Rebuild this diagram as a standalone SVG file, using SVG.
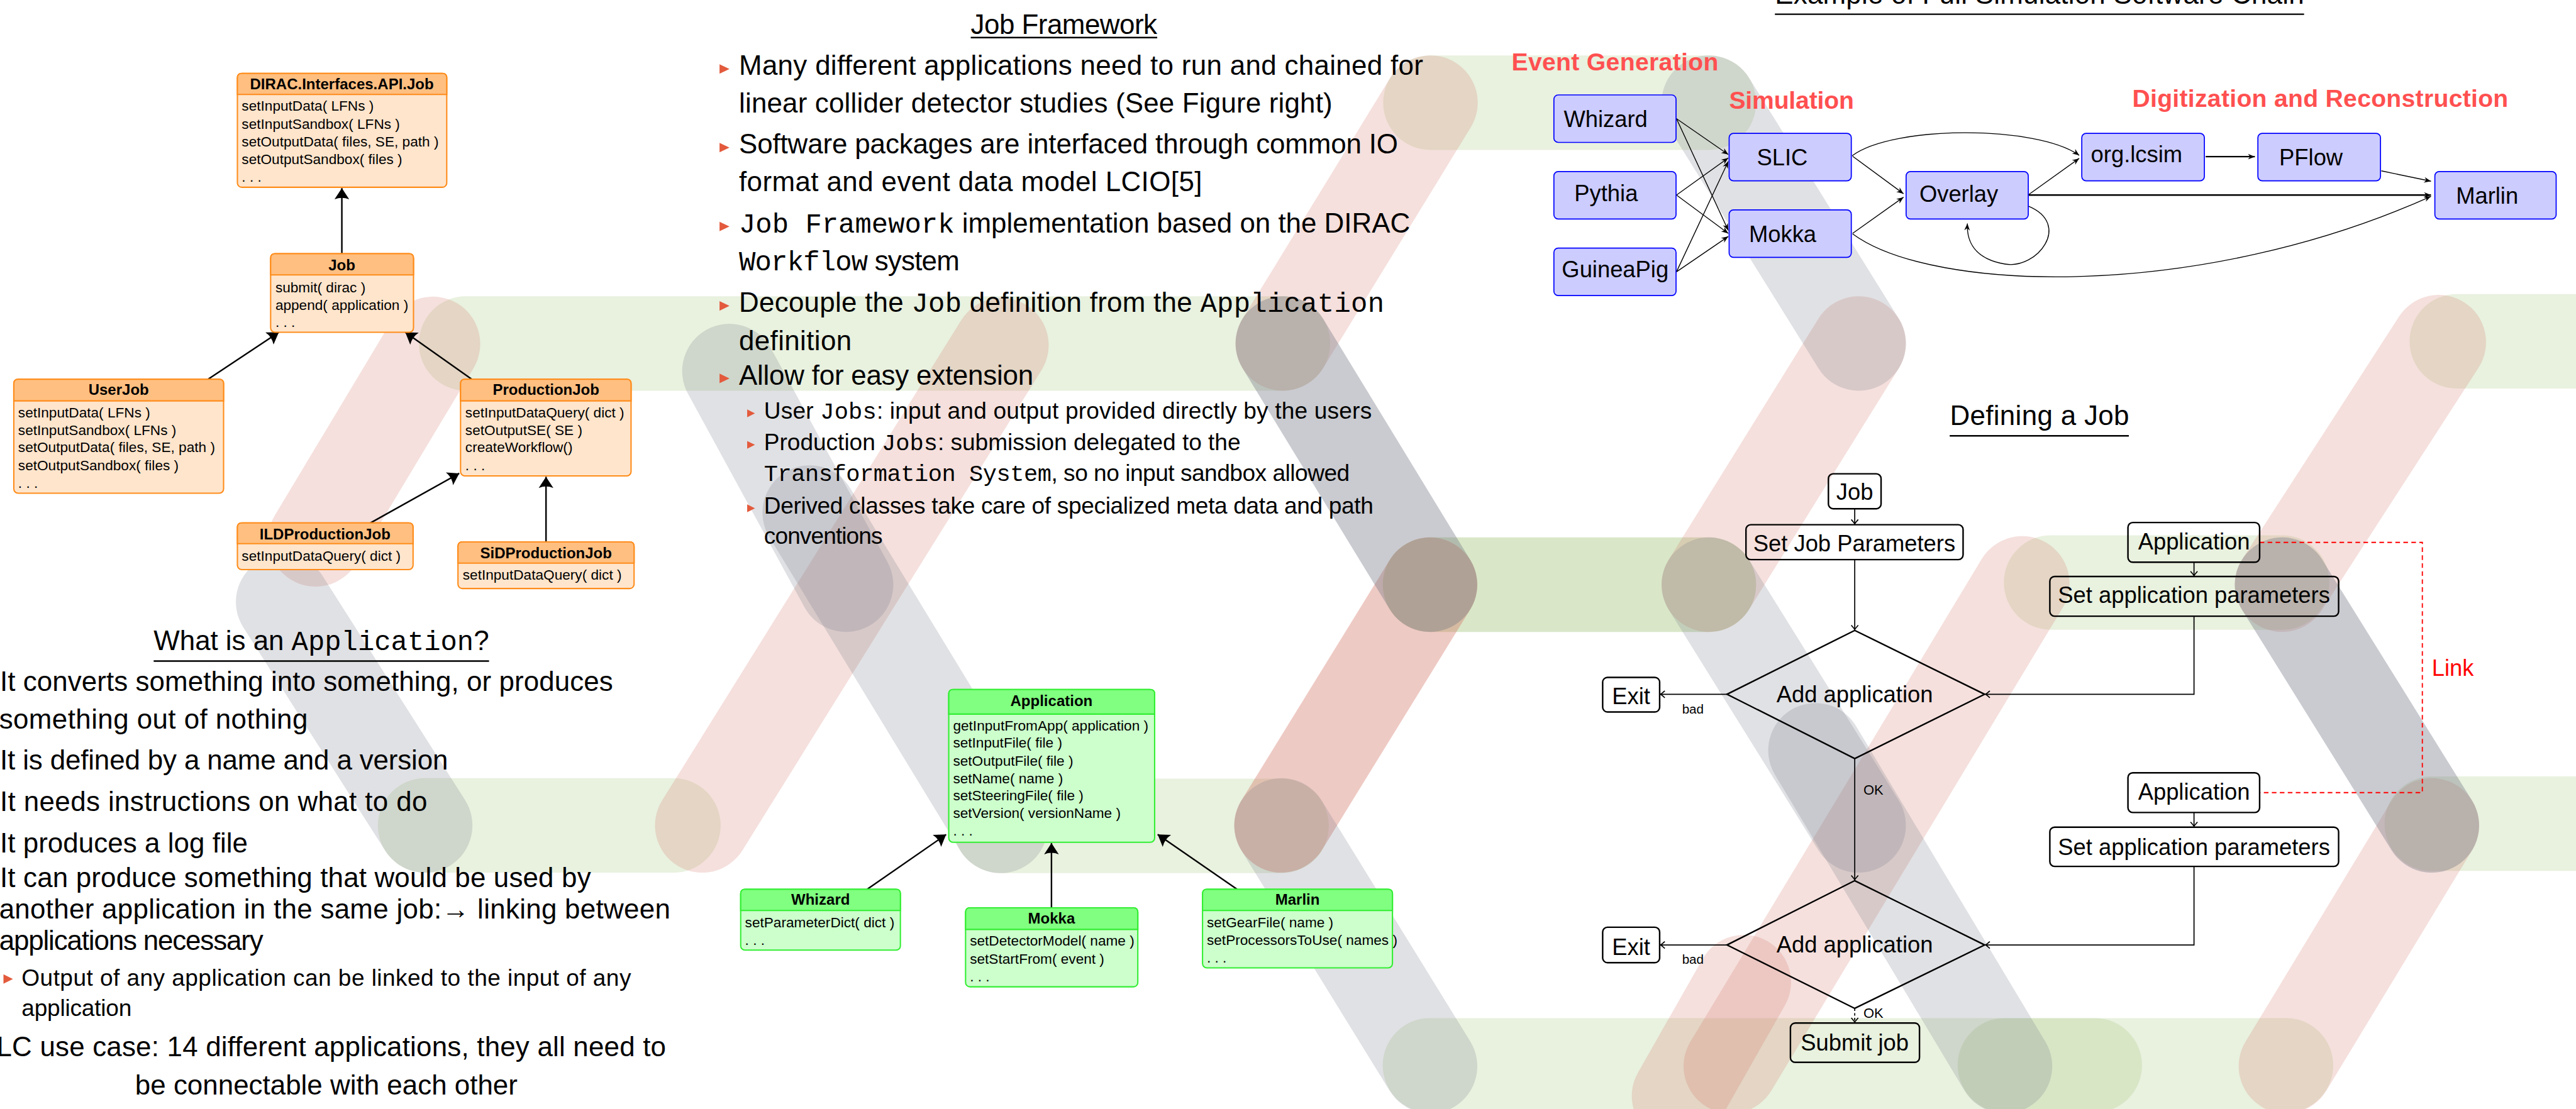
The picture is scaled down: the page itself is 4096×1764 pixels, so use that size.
<svg xmlns="http://www.w3.org/2000/svg" width="4096" height="1764" viewBox="0 0 4096 1764">
<defs>
<style>
text{font-family:'Liberation Sans',Arial,sans-serif;fill:#000}
.mono{font-family:'Liberation Mono','Courier New',monospace}
.b64{font-size:64px}
.b54{font-size:54px}
.u{font-size:33px}
.ut{font-size:35px;font-weight:bold;text-anchor:middle}
.band{fill:none;stroke-width:219;stroke-linecap:round}
.bp{stroke:rgb(211,115,99);stroke-opacity:.22}
.bp2{stroke:rgb(211,115,99);stroke-opacity:.38}
.bg{stroke:rgb(155,191,111);stroke-opacity:.22}
.bg2{stroke:rgb(155,191,111);stroke-opacity:.38}
.bk{stroke:rgb(115,119,131);stroke-opacity:.22}
.bk2{stroke:rgb(115,119,131);stroke-opacity:.38}
.ob{fill:#FFE5CC;stroke:#FF8C1A;stroke-width:3}
.oh{fill:#FFBF80;stroke:#FF8C1A;stroke-width:3}
.gb{fill:#CCFFCC;stroke:#33EE33;stroke-width:3}
.gh{fill:#80FF80;stroke:#33EE33;stroke-width:3}
.ua{stroke:#000;stroke-width:3.5;fill:none;marker-end:url(#ua)}
.bn{fill:#CCCCFF;stroke:#0000FF;stroke-width:2.5}
.bt{font-size:53px;text-anchor:middle}
.cl{stroke:#000;stroke-width:2;fill:none;marker-end:url(#ca)}
.clt{stroke:#000;stroke-width:3.5;fill:none;marker-end:url(#ca)}
.fn{fill:none;stroke:#000;stroke-width:3.5}
.ft{font-size:53px;text-anchor:middle}
.fl{stroke:#000;stroke-width:2.5;fill:none;marker-end:url(#fa)}
.lab{font-size:57px;font-weight:bold;fill:#FF5050}
.bul{fill:#E35A3C}
.ul{stroke:#000;stroke-width:3.5}
</style>
<marker id="ua" markerUnits="userSpaceOnUse" viewBox="-28 -19 30 38" markerWidth="30" markerHeight="38" refX="0" refY="0" orient="auto" overflow="visible"><path d="M0,0 L-26,-17 Q-19,0 -26,17 Z" fill="#000"/></marker>
<marker id="ca" markerUnits="userSpaceOnUse" viewBox="-17 -8 18 16" markerWidth="18" markerHeight="16" refX="0" refY="0" orient="auto" overflow="visible"><path d="M0,0 L-16,-6.5 L-11,0 L-16,6.5 Z" fill="#000"/></marker>
<marker id="fa" markerUnits="userSpaceOnUse" viewBox="-12 -10 14 20" markerWidth="14" markerHeight="20" refX="0" refY="0" orient="auto" overflow="visible"><path d="M-10,-8 Q-3,-2 0,0 Q-3,2 -10,8" fill="none" stroke="#000" stroke-width="2.5"/></marker>
</defs>
<rect x="0" y="0" width="4096" height="1764" fill="#fff"/>
<g transform="scale(0.68633)">
<g id="background">
<line class="band bg" x1="3314" y1="238" x2="3959" y2="238"/>
<line class="band bg" x1="1080" y1="796" x2="2972" y2="796"/>
<line class="band bg" x1="5692" y1="791" x2="6200" y2="791"/>
<line class="band bg2" x1="3313" y1="1355" x2="3959" y2="1355"/>
<line class="band bg" x1="4752" y1="1350" x2="5287" y2="1350"/>
<line class="band bg" x1="985" y1="1913" x2="1560" y2="1913"/>
<line class="band bg" x1="2318" y1="1914" x2="2969" y2="1914"/>
<line class="band bg" x1="5634" y1="1909" x2="6200" y2="1909"/>
<line class="band bg" x1="3313" y1="2469" x2="4853" y2="2469"/>
<line class="band bg" x1="4645" y1="2469" x2="5296" y2="2469"/>
<line class="band bp" x1="3314" y1="238" x2="2972" y2="796"/>
<line class="band bp" x1="1003" y1="797" x2="731" y2="1250"/>
<line class="band bp" x1="2320" y1="800" x2="1627" y2="1913"/>
<line class="band bp" x1="4306" y1="796" x2="3959" y2="1355"/>
<line class="band bp" x1="5650" y1="793" x2="5287" y2="1355"/>
<line class="band bp2" x1="3313" y1="1355" x2="2969" y2="1913"/>
<line class="band bp" x1="4685" y1="1352" x2="4010" y2="2471"/>
<line class="band bp" x1="4040" y1="2276" x2="3890" y2="2540"/>
<line class="band bp" x1="5634" y1="1913" x2="5296" y2="2471"/>
<line class="band bk" x1="3959" y1="238" x2="4306" y2="796"/>
<line class="band bk2" x1="2972" y1="796" x2="3313" y2="1355"/>
<line class="band bk" x1="1690" y1="860" x2="1960" y2="1355"/>
<line class="band bk" x1="1876" y1="1188" x2="2318" y2="1914"/>
<line class="band bk" x1="656" y1="1395" x2="985" y2="1913"/>
<line class="band bk" x1="2969" y1="1913" x2="3313" y2="2471"/>
<line class="band bk" x1="3959" y1="1355" x2="4306" y2="1913"/>
<line class="band bk" x1="4206" y1="1739" x2="4645" y2="2471"/>
<line class="band bk2" x1="5287" y1="1355" x2="5634" y2="1913"/>
</g>

<g id="connectors">
<path class="ua" d="M792,588 L792,436"/>
<path class="ua" d="M482,879 L646,770"/>
<path class="ua" d="M1093,879 L939,770"/>
<path class="ua" d="M858,1212 L1064,1097"/>
<path class="ua" d="M1265,1256 L1265,1105"/>
<path class="ua" d="M2009,2061 L2192,1934"/>
<path class="ua" d="M2436,2104 L2436,1954"/>
<path class="ua" d="M2866,2061 L2682,1934"/>
<path class="cl" d="M3884,275 L4004,358"/>
<path class="cl" d="M3884,275 L4004,534"/>
<path class="cl" d="M3884,452 L4004,366"/>
<path class="cl" d="M3884,452 L4004,541"/>
<path class="cl" d="M3884,630 L4004,374"/>
<path class="cl" d="M3884,630 L4004,548"/>
<path class="cl" d="M4291,361 C4385,290 4720,290 4817,360"/>
<path class="cl" d="M4292,362 L4410,449"/>
<path class="cl" d="M4292,541 L4410,457"/>
<path class="cl" d="M4700,451 L4817,367"/>
<path class="clt" d="M5110,363 L5224,363"/>
<path class="cl" d="M5517,396 L5632,420"/>
<path class="clt" d="M4700,452 L5632,452"/>
<path class="cl" d="M4700,478 C4800,520 4720,625 4645,612 C4575,600 4556,560 4558,518"/>
<path class="cl" d="M4292,542 C4480,680 5100,695 5632,455"/>
<path class="fl" d="M4297,1179 V1214"/>
<path class="fl" d="M4297,1297 V1459"/>
<path class="fl" d="M4001,1609 H3847"/>
<path class="fl" d="M5083,1303 V1334"/>
<path class="fl" d="M5083,1428 V1609 H4600"/>
<path class="fl" d="M4297,1758 V2039"/>
<path class="fl" d="M4001,2190 H3847"/>
<path class="fl" d="M5083,1883 V1915"/>
<path class="fl" d="M5083,2008 V2190 H4600"/>
<path class="fl" d="M4297,2337 V2369" stroke-dasharray="6 5"/>
<path d="M5235,1257 H5612 V1837 H5235" fill="none" stroke="#FF0000" stroke-width="2.7" stroke-dasharray="10.7 7.8"/>
</g>

<g id="uml-dirac">
<rect class="ob" x="550" y="170" width="485" height="264" rx="10"/>
<path class="oh" d="M550,219 V180 Q550,170 560,170 H1025 Q1035,170 1035,180 V219 Z"/>
<text class="ut" x="792" y="207">DIRAC.Interfaces.API.Job</text>
<text class="u" x="560" y="257">setInputData( LFNs )</text>
<text class="u" x="560" y="299">setInputSandbox( LFNs )</text>
<text class="u" x="560" y="340">setOutputData( files, SE, path )</text>
<text class="u" x="560" y="381">setOutputSandbox( files )</text>
<text class="u" x="560" y="421">. . .</text>
</g>
<g id="uml-job">
<rect class="ob" x="627" y="588" width="331" height="182" rx="10"/>
<path class="oh" d="M627,637 V598 Q627,588 637,588 H948 Q958,588 958,598 V637 Z"/>
<text class="ut" x="792" y="626">Job</text>
<text class="u" x="638" y="677">submit( dirac )</text>
<text class="u" x="638" y="718">append( application )</text>
<text class="u" x="638" y="758">. . .</text>
</g>
<g id="uml-userjob">
<rect class="ob" x="32" y="879" width="486" height="264" rx="10"/>
<path class="oh" d="M32,929 V889 Q32,879 42,879 H508 Q518,879 518,889 V929 Z"/>
<text class="ut" x="275" y="915">UserJob</text>
<text class="u" x="42" y="967">setInputData( LFNs )</text>
<text class="u" x="42" y="1008">setInputSandbox( LFNs )</text>
<text class="u" x="42" y="1048">setOutputData( files, SE, path )</text>
<text class="u" x="42" y="1090">setOutputSandbox( files )</text>
<text class="u" x="42" y="1130">. . .</text>
</g>
<g id="uml-productionjob">
<rect class="ob" x="1067" y="879" width="395" height="224" rx="10"/>
<path class="oh" d="M1067,929 V889 Q1067,879 1077,879 H1452 Q1462,879 1462,889 V929 Z"/>
<text class="ut" x="1265" y="915">ProductionJob</text>
<text class="u" x="1078" y="967">setInputDataQuery( dict )</text>
<text class="u" x="1078" y="1008">setOutputSE( SE )</text>
<text class="u" x="1078" y="1048">createWorkflow()</text>
<text class="u" x="1078" y="1090">. . .</text>
</g>
<g id="uml-ild">
<rect class="ob" x="550" y="1212" width="407" height="108" rx="10"/>
<path class="oh" d="M550,1260 V1222 Q550,1212 560,1212 H947 Q957,1212 957,1222 V1260 Z"/>
<text class="ut" x="753" y="1250">ILDProductionJob</text>
<text class="u" x="560" y="1300">setInputDataQuery( dict )</text>
</g>
<g id="uml-sid">
<rect class="ob" x="1061" y="1256" width="408" height="108" rx="10"/>
<path class="oh" d="M1061,1305 V1266 Q1061,1256 1071,1256 H1459 Q1469,1256 1469,1266 V1305 Z"/>
<text class="ut" x="1265" y="1294">SiDProductionJob</text>
<text class="u" x="1072" y="1343">setInputDataQuery( dict )</text>
</g>

<g id="uml-application">
<rect class="gb" x="2198" y="1598" width="477" height="354" rx="10"/>
<path class="gh" d="M2198,1655 V1608 Q2198,1598 2208,1598 H2665 Q2675,1598 2675,1608 V1655 Z"/>
<text class="ut" x="2436" y="1636">Application</text>
<text class="u" x="2208" y="1693">getInputFromApp( application )</text>
<text class="u" x="2208" y="1733">setInputFile( file )</text>
<text class="u" x="2208" y="1774">setOutputFile( file )</text>
<text class="u" x="2208" y="1815">setName( name )</text>
<text class="u" x="2208" y="1855">setSteeringFile( file )</text>
<text class="u" x="2208" y="1896">setVersion( versionName )</text>
<text class="u" x="2208" y="1937">. . .</text>
</g>
<g id="uml-whizard">
<rect class="gb" x="1716" y="2061" width="370" height="141" rx="10"/>
<path class="gh" d="M1716,2110 V2071 Q1716,2061 1726,2061 H2076 Q2086,2061 2086,2071 V2110 Z"/>
<text class="ut" x="1901" y="2097">Whizard</text>
<text class="u" x="1726" y="2149">setParameterDict( dict )</text>
<text class="u" x="1726" y="2190">. . .</text>
</g>
<g id="uml-mokka">
<rect class="gb" x="2237" y="2104" width="399" height="183" rx="10"/>
<path class="gh" d="M2237,2154 V2114 Q2237,2104 2247,2104 H2626 Q2636,2104 2636,2114 V2154 Z"/>
<text class="ut" x="2436" y="2140">Mokka</text>
<text class="u" x="2247" y="2192">setDetectorModel( name )</text>
<text class="u" x="2247" y="2234">setStartFrom( event )</text>
<text class="u" x="2247" y="2275">. . .</text>
</g>
<g id="uml-marlin">
<rect class="gb" x="2786" y="2061" width="440" height="182" rx="10"/>
<path class="gh" d="M2786,2110 V2071 Q2786,2061 2796,2061 H3216 Q3226,2061 3226,2071 V2110 Z"/>
<text class="ut" x="3006" y="2097">Marlin</text>
<text class="u" x="2796" y="2149">setGearFile( name )</text>
<text class="u" x="2796" y="2190">setProcessorsToUse( names )</text>
<text class="u" x="2796" y="2231">. . .</text>
</g>

<g id="text-application">
<text class="b64" x="744.5" y="1507" text-anchor="middle" textLength="777">What is an <tspan class="mono">Application</tspan>?</text>
<line class="ul" x1="356" y1="1532" x2="1133" y2="1532"/>
<text class="b64" x="0" y="1601" textLength="1420">It converts something into something, or produces</text>
<text class="b64" x="-2" y="1689" textLength="715">something out of nothing</text>
<text class="b64" x="0" y="1784" textLength="1038">It is defined by a name and a version</text>
<text class="b64" x="0" y="1880" textLength="990">It needs instructions on what to do</text>
<text class="b64" x="0" y="1975" textLength="574">It produces a log file</text>
<text class="b64" x="0" y="2056" textLength="1369">It can produce something that would be used by</text>
<text class="b64" x="-2" y="2128" textLength="1555">another application in the same job:→ linking between</text>
<text class="b64" x="-2" y="2202" textLength="612">applications necessary</text>
<polygon class="bul" points="8,2258 30,2269 8,2280"/>
<text class="b54" x="50" y="2284" textLength="1412">Output of any application can be linked to the input of any</text>
<text class="b54" x="50" y="2355" textLength="255">application</text>
<text class="b64" x="-8" y="2448" textLength="1551">LC use case: 14 different applications, they all need to</text>
<text class="b64" x="313" y="2537" textLength="886">be connectable with each other</text>
</g>

<g id="text-jobframework">
<text class="b64" x="2465" y="79" text-anchor="middle" textLength="432">Job Framework</text>
<line class="ul" x1="2249" y1="87" x2="2681" y2="87"/>
<polygon class="bul" points="1667,149 1690,160 1667,171"/>
<text class="b64" x="1712" y="174" textLength="1585">Many different applications need to run and chained for</text>
<text class="b64" x="1712" y="261" textLength="1375">linear collider detector studies (See Figure right)</text>
<polygon class="bul" points="1667,331 1690,342 1667,353"/>
<text class="b64" x="1712" y="356" textLength="1527">Software packages are interfaced through common IO</text>
<text class="b64" x="1712" y="443" textLength="1073">format and event data model LCIO[5]</text>
<polygon class="bul" points="1667,514 1690,525 1667,536"/>
<text class="b64" x="1712" y="539" textLength="1555"><tspan class="mono">Job Framework</tspan> implementation based on the DIRAC</text>
<text class="b64" x="1712" y="627" textLength="511"><tspan class="mono">Workflow</tspan> system</text>
<polygon class="bul" points="1667,698 1690,709 1667,720"/>
<text class="b64" x="1712" y="723" textLength="1495">Decouple the <tspan class="mono">Job</tspan> definition from the <tspan class="mono">Application</tspan></text>
<text class="b64" x="1712" y="811" textLength="261">definition</text>
<polygon class="bul" points="1667,866 1690,877 1667,888"/>
<text class="b64" x="1712" y="891" textLength="682">Allow for easy extension</text>
<polygon class="bul" points="1731,949 1749,958 1731,967"/>
<text class="b54" x="1770" y="970" textLength="1408">User <tspan class="mono">Jobs</tspan>: input and output provided directly by the users</text>
<polygon class="bul" points="1731,1022 1749,1031 1731,1040"/>
<text class="b54" x="1770" y="1043" textLength="1104">Production <tspan class="mono">Jobs</tspan>: submission delegated to the</text>
<text class="b54" x="1770" y="1115" textLength="1357"><tspan class="mono">Transformation System</tspan>, so no input sandbox allowed</text>
<polygon class="bul" points="1731,1169 1749,1178 1731,1187"/>
<text class="b54" x="1770" y="1190" textLength="1412">Derived classes take care of specialized meta data and path</text>
<text class="b54" x="1770" y="1260" textLength="275">conventions</text>
</g>

<g id="chain-title">
<text class="b64" x="4725" y="8" text-anchor="middle" textLength="1226">Example of Full Simulation Software Chain</text>
<line class="ul" x1="4112" y1="33" x2="5338" y2="33"/>
<text class="lab" x="3502" y="163" textLength="479">Event Generation</text>
<text class="lab" x="4006" y="252" textLength="289">Simulation</text>
<text class="lab" x="4940" y="247" textLength="871">Digitization and Reconstruction</text>
</g>
<g id="n-whizard"><rect class="bn" x="3600" y="220" width="283" height="110" rx="10"/><text class="bt" x="3720" y="294">Whizard</text></g>
<g id="n-pythia"><rect class="bn" x="3600" y="397.5" width="283" height="110" rx="10"/><text class="bt" x="3721" y="466">Pythia</text></g>
<g id="n-guineapig"><rect class="bn" x="3600" y="575" width="283" height="110" rx="10"/><text class="bt" x="3742" y="642">GuineaPig</text></g>
<g id="n-slic"><rect class="bn" x="4006" y="309" width="283" height="110" rx="10"/><text class="bt" x="4129" y="383">SLIC</text></g>
<g id="n-mokka"><rect class="bn" x="4006" y="486.5" width="283" height="110" rx="10"/><text class="bt" x="4130" y="561">Mokka</text></g>
<g id="n-overlay"><rect class="bn" x="4416" y="397.5" width="283" height="110" rx="10"/><text class="bt" x="4538" y="468">Overlay</text></g>
<g id="n-orglcsim"><rect class="bn" x="4823" y="309" width="284" height="110" rx="10"/><text class="bt" x="4950" y="376">org.lcsim</text></g>
<g id="n-pflow"><rect class="bn" x="5231" y="309" width="284" height="110" rx="10"/><text class="bt" x="5354" y="383">PFlow</text></g>
<g id="n-marlin"><rect class="bn" x="5641" y="397.5" width="281" height="110" rx="10"/><text class="bt" x="5762" y="472">Marlin</text></g>

<g id="flow-title">
<text class="b64" x="4725" y="985" text-anchor="middle" textLength="415">Defining a Job</text>
<line class="ul" x1="4517" y1="1010" x2="4932" y2="1010"/>
</g>
<g id="f-job"><rect class="fn" x="4236" y="1098" width="122" height="81" rx="11"/><text class="ft" x="4297" y="1159">Job</text></g>
<g id="f-setjob"><rect class="fn" x="4045" y="1216" width="503" height="81" rx="11"/><text class="ft" x="4296" y="1278">Set Job Parameters</text></g>
<g id="f-app1"><rect class="fn" x="4930" y="1211" width="305" height="92" rx="11"/><text class="ft" x="5083" y="1273">Application</text></g>
<g id="f-setapp1"><rect class="fn" x="4749" y="1336" width="669" height="92" rx="11"/><text class="ft" x="5083" y="1397">Set application parameters</text></g>
<g id="f-add1"><path class="fn" d="M4297,1461 L4598,1609 L4297,1758 L4001,1609 Z" stroke-width="3"/><text class="ft" x="4297" y="1627">Add application</text></g>
<g id="f-exit1"><rect class="fn" x="3713" y="1570" width="132" height="80" rx="11"/><text class="ft" x="3779" y="1632">Exit</text></g>
<g id="f-app2"><rect class="fn" x="4930" y="1791" width="305" height="92" rx="11"/><text class="ft" x="5083" y="1853">Application</text></g>
<g id="f-setapp2"><rect class="fn" x="4749" y="1917" width="669" height="91" rx="11"/><text class="ft" x="5083" y="1981">Set application parameters</text></g>
<g id="f-add2"><path class="fn" d="M4297,2041 L4598,2190 L4297,2337 L4001,2190 Z" stroke-width="3"/><text class="ft" x="4297" y="2208">Add application</text></g>
<g id="f-exit2"><rect class="fn" x="3713" y="2149" width="132" height="82" rx="11"/><text class="ft" x="3779" y="2213">Exit</text></g>
<g id="f-submit"><rect class="fn" x="4148" y="2371" width="299" height="91" rx="11"/><text class="ft" x="4297" y="2434">Submit job</text></g>
<g id="f-labels">
<text x="3897" y="1654" font-size="30">bad</text>
<text x="3897" y="2234" font-size="30">bad</text>
<text x="4317" y="1842" font-size="32">OK</text>
<text x="4317" y="2359" font-size="32">OK</text>
<text x="5634" y="1567" font-size="53" style="fill:#FF0000">Link</text>
</g>
</g>
</svg>
